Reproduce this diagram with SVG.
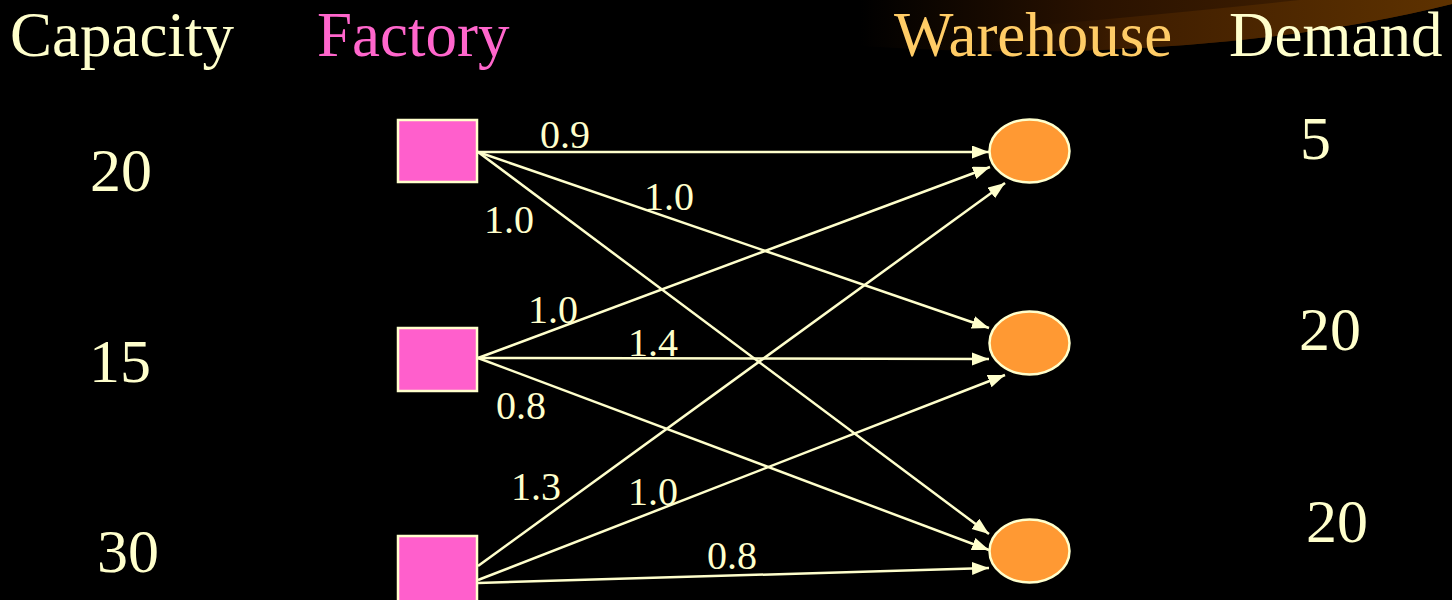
<svg xmlns="http://www.w3.org/2000/svg" width="1452" height="600" viewBox="0 0 1452 600">
  <defs>
    <linearGradient id="swooshDark" x1="860" y1="0" x2="1452" y2="0" gradientUnits="userSpaceOnUse">
      <stop offset="0" stop-color="#000000"/>
      <stop offset="0.4" stop-color="#2a1200"/>
      <stop offset="1" stop-color="#4a2500"/>
    </linearGradient>
    <linearGradient id="swooshLight" x1="940" y1="0" x2="1452" y2="0" gradientUnits="userSpaceOnUse">
      <stop offset="0" stop-color="#000000" stop-opacity="0"/>
      <stop offset="0.35" stop-color="#3e1d00"/>
      <stop offset="1" stop-color="#5e3200"/>
    </linearGradient>
    <marker id="arrow" markerUnits="userSpaceOnUse" markerWidth="18" markerHeight="14" refX="17" refY="6.5" orient="auto">
      <path d="M0,0 L17,6.5 L0,13 Z" fill="#FFFFCC"/>
    </marker>
    <style>
      text { font-family: 'Liberation Serif', 'DejaVu Serif', serif; }
      .head { font-size: 63px; }
      .num { font-size: 62px; fill: #FFFFCC; }
      .cost { font-size: 40px; fill: #FFFFCC; }
      .factory { fill: #FF5FCC; stroke: #FFFFCC; stroke-width: 2.5; }
      .warehouse { fill: #FF9933; stroke: #FFFFCC; stroke-width: 2.5; }
      .edge { stroke: #FFFFCC; stroke-width: 2.5; fill: none; marker-end: url(#arrow); }
    </style>
  </defs>

  <!-- background -->
  <rect x="0" y="0" width="1452" height="600" fill="#000000"/>

  <!-- decorative brown swoosh, top right -->
  <path d="M860 0 H1452 V4 Q1300 42 1100 50 Q990 54 860 46 Z" fill="url(#swooshDark)"/>
  <path d="M940 34 Q1150 16 1300 0 H1452 V4 Q1300 42 1100 50 Q1010 53 940 50 Z" fill="url(#swooshLight)"/>

  <!-- column headings -->
  <text class="head" x="10" y="56" fill="#FFFFCC" font-family="Liberation Serif, DejaVu Serif, serif">Capacity</text>
  <text class="head" x="317" y="56" fill="#FF66CC" font-family="Liberation Serif, DejaVu Serif, serif">Factory</text>
  <text class="head" x="894" y="56" fill="#FFCC66" font-family="Liberation Serif, DejaVu Serif, serif">Warehouse</text>
  <text class="head" x="1229" y="56" fill="#FFFFCC" font-family="Liberation Serif, DejaVu Serif, serif">Demand</text>

  <!-- capacities -->
  <g font-family="Liberation Serif, DejaVu Serif, serif">
    <text class="num" x="90" y="191">20</text>
    <text class="num" x="89" y="382">15</text>
    <text class="num" x="97" y="572">30</text>
  </g>

  <!-- demands -->
  <g font-family="Liberation Serif, DejaVu Serif, serif">
    <text class="num" x="1300" y="159">5</text>
    <text class="num" x="1299" y="350">20</text>
    <text class="num" x="1306" y="542">20</text>
  </g>

  <!-- connectors -->
  <g id="connectors">
    <line class="edge" x1="478" y1="152" x2="989" y2="152"/>
    <line class="edge" x1="478" y1="152" x2="989" y2="328"/>
    <line class="edge" x1="478" y1="152" x2="989" y2="534"/>
    <line class="edge" x1="478" y1="358" x2="990" y2="167"/>
    <line class="edge" x1="478" y1="358" x2="989" y2="359"/>
    <line class="edge" x1="478" y1="358" x2="989" y2="550"/>
    <line class="edge" x1="478" y1="566" x2="1005" y2="183"/>
    <line class="edge" x1="478" y1="580" x2="1005" y2="375"/>
    <line class="edge" x1="478" y1="583" x2="989" y2="568"/>
  </g>

  <!-- shipping costs -->
  <g id="costs" font-family="Liberation Serif, DejaVu Serif, serif">
    <text class="cost" x="540" y="148">0.9</text>
    <text class="cost" x="644" y="210">1.0</text>
    <text class="cost" x="484" y="233">1.0</text>
    <text class="cost" x="528" y="323">1.0</text>
    <text class="cost" x="628" y="356">1.4</text>
    <text class="cost" x="496" y="419">0.8</text>
    <text class="cost" x="511" y="500">1.3</text>
    <text class="cost" x="628" y="505">1.0</text>
    <text class="cost" x="707" y="569">0.8</text>
  </g>

  <!-- factories -->
  <g id="factory-1"><rect class="factory" x="398" y="120" width="79" height="62"/></g>
  <g id="factory-2"><rect class="factory" x="398" y="328" width="79" height="63"/></g>
  <g id="factory-3"><rect class="factory" x="398" y="536" width="79" height="70"/></g>

  <!-- warehouses -->
  <g id="warehouse-1"><ellipse class="warehouse" cx="1029.5" cy="151" rx="40" ry="31.5"/></g>
  <g id="warehouse-2"><ellipse class="warehouse" cx="1029.5" cy="343" rx="40" ry="31.5"/></g>
  <g id="warehouse-3"><ellipse class="warehouse" cx="1029.5" cy="551" rx="40" ry="31.5"/></g>
</svg>
